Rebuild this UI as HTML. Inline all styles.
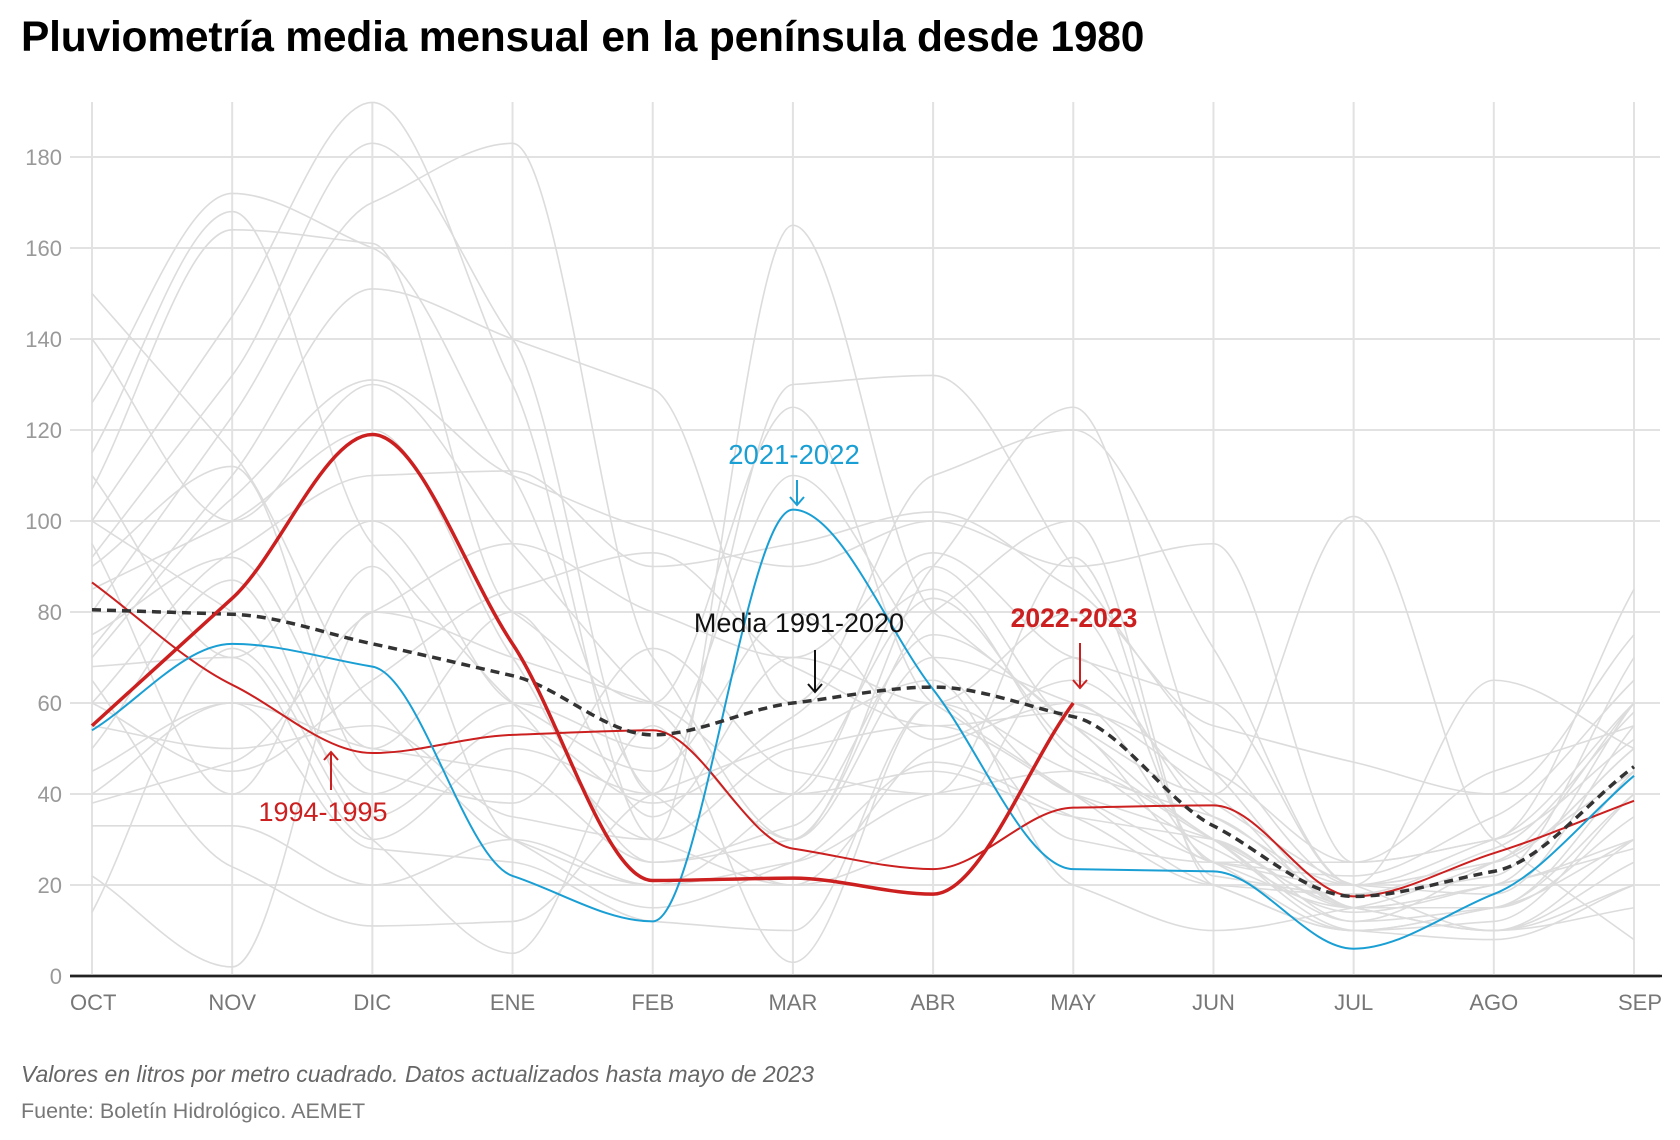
<!DOCTYPE html>
<html><head><meta charset="utf-8"><style>
body{margin:0;background:#fff;font-family:"Liberation Sans",sans-serif}
#wrap{position:relative;width:1680px;height:1140px;overflow:hidden}
h1{position:absolute;left:21px;top:14px;margin:0;font-size:42.5px;font-weight:bold;color:#000;letter-spacing:-0.2px}
.note{position:absolute;left:21px;font-size:23px;color:#666}
</style></head><body>
<div id="wrap">
<h1>Pluviometría media mensual en la península desde 1980</h1>
<svg id="chart" width="1680" height="1140" style="position:absolute;left:0;top:0"></svg>
<div class="note" style="top:1061px;font-style:italic">Valores en litros por metro cuadrado. Datos actualizados hasta mayo de 2023</div>
<div class="note" style="top:1099px;font-size:21.5px;color:#777">Fuente: Boletín Hidrológico. AEMET</div>
</div>
<script>
const months=["OCT","NOV","DIC","ENE","FEB","MAR","ABR","MAY","JUN","JUL","AGO","SEP"];
const yTicks=[0,20,40,60,80,100,120,140,160,180];
const grayYears=[
[150,115,60,30,20,25,40,45,30,15,10,20],[140,100,130,95,60,30,70,60,40,15,20,60],
[126,172,160,110,40,20,30,70,35,20,25,50],[115,168,95,60,30,165,80,55,30,12,15,45],
[107,164,161,80,60,125,60,40,20,10,15,30],[100,145,192,130,30,20,50,60,25,10,15,40],
[92,132,183,140,40,130,132,90,50,20,30,60],[80,123,170,183,70,30,90,125,45,15,10,30],
[72,110,151,140,129,60,110,120,72,20,18,55],[70,105,131,110,98,90,100,90,95,25,30,85],
[60,93,110,111,90,95,102,85,55,47,40,75],[38,47,80,95,80,70,93,70,60,20,65,50],
[22,2,80,70,60,40,90,55,40,101,30,8],[14,72,30,5,55,3,60,45,35,15,10,25],
[33,33,20,30,20,40,83,50,30,10,8,20],[40,60,28,25,12,10,60,30,25,25,45,55],
[65,24,11,12,40,52,65,20,10,15,25,60],[55,50,55,35,30,50,55,40,25,15,20,30],
[45,60,50,45,25,33,75,55,25,20,25,50],[68,70,30,50,40,40,45,35,30,12,25,45],
[100,80,40,60,50,110,70,40,30,15,15,35],[85,100,120,70,25,30,80,100,20,10,12,40],
[75,92,50,80,35,70,60,80,25,22,35,65],[60,45,65,85,93,68,55,58,45,25,30,52],
[50,87,35,55,38,57,85,48,28,14,20,28],[90,112,45,38,72,45,40,92,22,18,28,58],
[110,70,100,60,45,80,52,65,38,20,10,15],[95,40,90,30,15,25,47,35,20,18,22,70]];
const y2022_23=[55,83,119,73,21,21.5,18,60];
const y2021_22=[54,73,68,22,12,102.5,63,23.5,23,6,18,44];
const y1994_95=[86.5,64,49,53,54,28,23.5,37,37.5,17.5,27,38.5];
const mean=[80.5,79.5,73,66,53,60,63.5,57,33,17.5,23,46];

const svg=document.getElementById('chart');const NS='http://www.w3.org/2000/svg';
const X0=92,X1=1634,Y0=976,YT=157;
const x=i=>X0+i*(X1-X0)/11;
const y=v=>Y0-v*(Y0-YT)/180;
function mk(t,a,p){const e=document.createElementNS(NS,t);for(const k in a)e.setAttribute(k,a[k]);(p||svg).appendChild(e);return e;}
function monotone(pts){
 const n=pts.length;if(n<2)return '';
 const d=[],m=[];
 for(let i=0;i<n-1;i++)d.push((pts[i+1][1]-pts[i][1])/(pts[i+1][0]-pts[i][0]));
 m[0]=d[0];m[n-1]=d[n-2];
 for(let i=1;i<n-1;i++){m[i]=(d[i-1]*d[i]<=0)?0:(Math.sign(d[i])*Math.min(Math.abs(d[i-1]),Math.abs(d[i]),0.5*Math.abs(d[i-1]+d[i])));}
 let s='M'+pts[0][0]+','+pts[0][1];
 for(let i=0;i<n-1;i++){const h=(pts[i+1][0]-pts[i][0])/3;
  s+=' C'+(pts[i][0]+h)+','+(pts[i][1]+h*m[i])+' '+(pts[i+1][0]-h)+','+(pts[i+1][1]-h*m[i+1])+' '+pts[i+1][0]+','+pts[i+1][1];}
 return s;}
const path=arr=>monotone(arr.map((v,i)=>[x(i),y(v)]));
yTicks.forEach(t=>{
 const g=mk('line',{x1:70,x2:1660,y1:y(t),y2:y(t),stroke:t?'#e2e2e2':'#222','stroke-width':t?2:2.5});
 
 const l=mk('text',{x:62,y:y(t)+8,'text-anchor':'end','font-size':22,fill:'#999','font-family':'Liberation Sans'});
 l.textContent=t;
});
months.forEach((m,i)=>{
 const g=mk('line',{x1:x(i),x2:x(i),y1:102,y2:Y0,stroke:'#e2e2e2','stroke-width':2});
 
 const anc=i===0?'start':(i===11?'end':'middle');
 const l=mk('text',{x:i===0?x(i)-22:(i===11?x(i)+28:x(i)),y:1010,'text-anchor':anc,'font-size':22,fill:'#777','font-family':'Liberation Sans'});
 l.textContent=m;
});
grayYears.forEach(a=>{const p=mk('path',{d:path(a),fill:'none',stroke:'#dcdcdc','stroke-width':1.6});
 });
let p;
p=mk('path',{d:path(y1994_95),fill:'none',stroke:'#cc1f1f','stroke-width':2});

p=mk('path',{d:path(y2021_22),fill:'none',stroke:'#1a9fd4','stroke-width':2});

p=mk('path',{d:path(mean),fill:'none',stroke:'#333','stroke-width':3.5,'stroke-dasharray':'9,6'});

p=mk('path',{d:path(y2022_23),fill:'none',stroke:'#cc1f1f','stroke-width':3.5});

p=mk('line',{x1:70,x2:1662,y1:Y0,y2:Y0,stroke:'#222','stroke-width':2.5});

function ann(name,txt,tx,ty,col,bold,fs,ax,ay1,ay2){
 const t=mk('text',{x:tx,y:ty,'text-anchor':'middle','font-size':fs,fill:col,'font-weight':bold?'bold':'normal','font-family':'Liberation Sans'});
 t.textContent=txt;
 const g=mk('g',{stroke:col,'stroke-width':2,fill:'none'});
 
 mk('line',{x1:ax,x2:ax,y1:ay1,y2:ay2},g);
 const dir=ay2>ay1?-1:1;
 mk('path',{d:`M${ax-7},${ay2+dir*8} L${ax},${ay2} L${ax+7},${ay2+dir*8}`},g);
}
ann('annotation-2021-2022','2021-2022',794,464,'#1a9fd4',false,27.5,797,480,505);
ann('annotation-mean','Media 1991-2020',799,632,'#111',false,27,815,650,692);
ann('annotation-2022-2023','2022-2023',1074,627,'#cc1f1f',true,26.5,1080,643,688);
ann('annotation-1994-1995','1994-1995',323,821,'#cc1f1f',false,27,331,790,752);
</script>
</body></html>
